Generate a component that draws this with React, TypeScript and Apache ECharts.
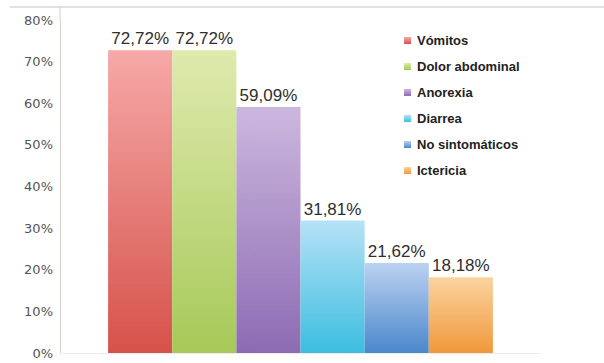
import React, { useEffect, useRef } from "react";
import * as echarts from "echarts";

// Frecuencia de síntomas (%)
const symptoms = ["Vómitos", "Dolor abdominal", "Anorexia", "Diarrea", "No sintomáticos", "Ictericia"];
const percentages = [72.72, 72.72, 59.09, 31.81, 21.62, 18.18];
const topColors = ["#f6a9a8", "#dfeaae", "#cbb8de", "#b6e2f6", "#bcd2f1", "#fbd3a0"];
const bottomColors = ["#d6524a", "#a6c958", "#8d6bb3", "#3cbde0", "#4a87cb", "#f1983a"];
const yTicks = [0, 10, 20, 30, 40, 50, 60, 70, 80];

const fmt = (v: number) => v.toFixed(2).replace(".", ",") + "%";

export default function App() {
  const ref = useRef<HTMLDivElement>(null);

  useEffect(() => {
    if (!ref.current) return;
    const chart = echarts.init(ref.current, null, { renderer: "svg" });
    const series = symptoms.map((name, i) => ({
      name,
      type: "bar" as const,
      data: [percentages[i]],
      barGap: "0%",
      barCategoryGap: "20%",
      itemStyle: {
        color: new echarts.graphic.LinearGradient(0, 0, 0, 1, [
          { offset: 0, color: topColors[i] },
          { offset: 1, color: bottomColors[i] },
        ]),
      },
      label: {
        show: true,
        position: "top" as const,
        distance: 3,
        formatter: (p: any) => fmt(p.value),
        fontFamily: "Liberation Sans",
        fontSize: 17,
        color: "#2e2e2e",
      },
    }));

    chart.setOption({
      animation: false,
      backgroundColor: "#ffffff",
      grid: { left: 60, right: 63, top: 20, bottom: 10 },
      legend: {
        orient: "vertical",
        left: 399,
        top: 29,
        itemWidth: 7,
        itemHeight: 7,
        itemGap: 13,
        icon: "rect",
        data: symptoms,
        textStyle: {
          fontFamily: "Liberation Sans",
          fontWeight: "bold",
          fontSize: 13,
          color: "#222",
          padding: [0, 0, 0, 1],
        },
      },
      xAxis: {
        type: "category",
        data: [""],
        axisLine: { show: true, lineStyle: { color: "#ececec" } },
        axisTick: { show: false },
        axisLabel: { show: false },
      },
      yAxis: {
        type: "value",
        min: yTicks[0],
        max: yTicks[yTicks.length - 1],
        interval: 10,
        axisLine: { show: true, lineStyle: { color: "#d8d0cc" } },
        axisTick: { show: false },
        splitLine: { show: false },
        axisLabel: {
          formatter: "{value}%",
          fontFamily: "DejaVu Sans",
          fontSize: 13,
          color: "#555",
          margin: 7,
        },
      },
      graphic: [
        {
          type: "polyline",
          shape: { points: [[10, 7], [604, 7]] },
          style: { stroke: "#ddd6d2", lineWidth: 1.5, fill: "none" },
        },
        {
          type: "line",
          shape: { x1: 60, y1: 7, x2: 60, y2: 20 },
          style: { stroke: "#d8d0cc", lineWidth: 1 },
        },
      ],
      series,
    });

    return () => chart.dispose();
  }, []);

  return (
    <div
      ref={ref}
      style={{ position: "absolute", left: 0, top: 0, width: 604, height: 363 }}
    />
  );
}
